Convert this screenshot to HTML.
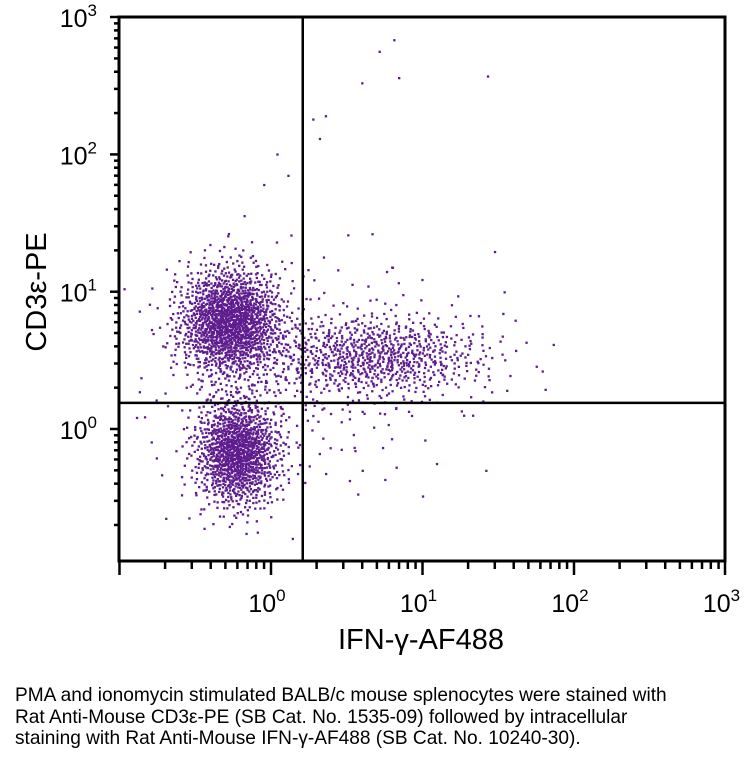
<!DOCTYPE html>
<html><head><meta charset="utf-8">
<style>
body{margin:0;background:#fff;width:753px;height:760px;overflow:hidden;font-family:"Liberation Sans",sans-serif;}
#cap{position:absolute;left:15px;top:685px;font-size:19.1px;line-height:21.5px;color:#000;white-space:nowrap;}
</style></head>
<body>
<svg id="chart" width="753" height="680" style="position:absolute;left:0;top:0" xmlns="http://www.w3.org/2000/svg">
<g id="dots"></g>
<g id="axes"></g>
<text x="421" y="649" font-size="29" text-anchor="middle" font-family="Liberation Sans, DejaVu Sans, sans-serif">IFN-γ-AF488</text>
<text transform="translate(46,292) rotate(-90)" font-size="29" text-anchor="middle" font-family="Liberation Sans, DejaVu Sans, sans-serif">CD3ε-PE</text>
</svg>
<div id="cap">PMA and ionomycin stimulated BALB/c mouse splenocytes were stained with<br>Rat Anti-Mouse CD3ε-PE (SB Cat. No. 1535-09) followed by intracellular<br>staining with Rat Anti-Mouse IFN-γ-AF488 (SB Cat. No. 10240-30).</div>
<script>
// cluster data (log10 units): centers, spreads, counts
const clusterNames=["cd3pos-ifnneg","cd3neg-ifnneg","cd3pos-ifnpos","background"];
const clusterCx=[-0.27,-0.22,0.68,0.2];
const clusterCy=[0.78,-0.17,0.53,0.4];
const clusterSx=[0.17,0.14,0.38,0.55];
const clusterSy=[0.2,0.2,0.15,0.45];
const clusterN=[1500,1200,800,260];
// sparse high outlier events (x, y in data units)
const outlierX=[6.5,5.2,7.0,27,4.0,1.9,2.1,1.3,1.1,0.9,6.3,2.3];
const outlierY=[680,560,360,370,330,180,130,70,100,60,15,190];
const quadX=1.62, quadY=1.55;
const xTicks=[0,1,2,3], yTicks=[0,1,2,3];
const X0=271, XD=151.5, Y0=429, YD=137.3;
const L=119,R=725,T=17,B=561;
const xs=v=>X0+v*XD, ys=v=>Y0-v*YD;
const NS="http://www.w3.org/2000/svg";
function mk(t,a,p){const e=document.createElementNS(NS,t);for(const k in a)e.setAttribute(k,a[k]);p.appendChild(e);return e;}
function halton(i,b){let f=1,r=0;while(i>0){f/=b;r+=f*(i%b);i=Math.floor(i/b);}return r;}
const dots=document.getElementById('dots');
function dot(px,py){
  const d=mk('rect',{x:(px-1).toFixed(1),y:(py-1).toFixed(1),width:2.3,height:2.3,fill:'#5e1c8e'},dots);
  
  
}
let idx=1;
clusterCx.forEach((cx,c)=>{
  for(let i=0;i<clusterN[c];i++,idx++){
    const u=Math.max(halton(idx,2),1e-6),v=halton(idx,3);
    const r=Math.sqrt(-2*Math.log(u));
    const gx=r*Math.cos(2*Math.PI*v),gy=r*Math.sin(2*Math.PI*v);
    const px=xs(cx+gx*clusterSx[c]),py=ys(clusterCy[c]+gy*clusterSy[c]);
    if(px<L+2||px>R-2||py<T+2||py>B-2)continue;
    dot(px,py);
  }
});
outlierX.forEach((x,i)=>dot(xs(Math.log10(x)),ys(Math.log10(outlierY[i]))));
const ax=document.getElementById('axes');
mk('rect',{x:L,y:T,width:R-L,height:B-T,fill:'none',stroke:'#000','stroke-width':3},ax);
const ql=mk('line',{x1:xs(Math.log10(quadX)),x2:xs(Math.log10(quadX)),y1:T,y2:B,stroke:'#000','stroke-width':2.5},ax);


const qh=mk('line',{x1:L,x2:R,y1:ys(Math.log10(quadY)),y2:ys(Math.log10(quadY)),stroke:'#000','stroke-width':2.5},ax);


for(let d=-1;d<3;d++)for(let m=1;m<10;m++){
  const lv=d+Math.log10(m);const x=xs(lv);
  if(x>=L-1&&x<=R+1)mk('line',{x1:x,x2:x,y1:B,y2:B+(m==1?14:8),stroke:'#000','stroke-width':2.5},ax);
}
mk('line',{x1:R,x2:R,y1:B,y2:B+14,stroke:'#000','stroke-width':2.5},ax);
for(let d=-1;d<3;d++)for(let m=1;m<10;m++){
  const lv=d+Math.log10(m);const y=ys(lv);
  if(y>=T-1&&y<=B+1)mk('line',{x1:L,x2:L-(m==1?9:5),y1:y,y2:y,stroke:'#000','stroke-width':2.5},ax);
}
mk('line',{x1:L,x2:L-9,y1:T,y2:T,stroke:'#000','stroke-width':2.5},ax);
xTicks.forEach(t=>{
  const e=mk('text',{x:xs(t)-4,y:612,'font-size':25,'text-anchor':'middle'},ax);
  
  
  e.innerHTML='10<tspan dy="-11" font-size="17">'+t+'</tspan>';
});
yTicks.forEach(t=>{
  const e=mk('text',{x:97,y:ys(t)+10,'font-size':25,'text-anchor':'end'},ax);
  
  
  e.innerHTML='10<tspan dy="-11" font-size="17">'+t+'</tspan>';
});
</script>
</body></html>
